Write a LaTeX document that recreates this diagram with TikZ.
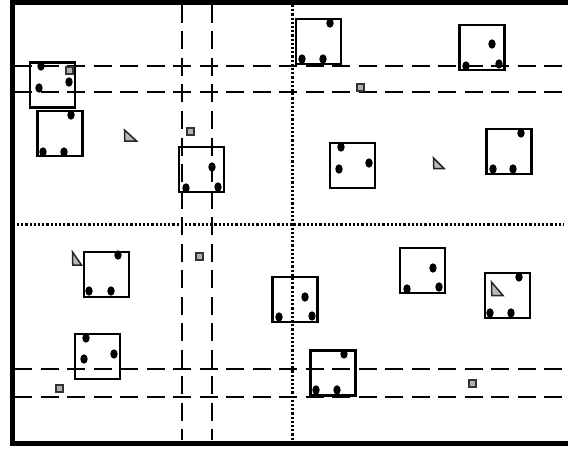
\documentclass[tikz,border=0pt]{standalone}
\usetikzlibrary{positioning}

\begin{document}
\begin{tikzpicture}[
    x=1pt, y=-1pt,
    frame/.style={line width=5pt},
    lane/.style={line width=2.2pt, dash pattern=on 18pt off 8.5pt},
    seam/.style={line width=3pt, dash pattern=on 2.2pt off 2pt},
    crate/.style={rectangle, draw, line width=2.2pt, minimum size=45pt, inner sep=0pt},
    chip/.style={rectangle, draw=black!80, fill=black!30, line width=2pt, minimum size=7pt, inner sep=0pt},
    tri/.style={draw=black!85, fill=black!28, line width=1.5pt, line join=miter},
]
\useasboundingbox (0,0) rectangle (568,452);

% ====== Frame ======
\draw[frame] (568,2.5) -- (12,2.5) -- (12,443) -- (568,443);

% ====== Lanes ======
\draw[lane] (14,66) -- (568,66);
\draw[lane] (14,92) -- (568,92);
\draw[lane] (14,369) -- (568,369);
\draw[lane] (14,397) -- (568,397);
\draw[lane] (182,5) -- (182,440);
\draw[lane] (212,5) -- (212,440);

% ====== Seams ======
\draw[seam] (292,5) -- (292,440);
\draw[seam] (17,224) -- (564,224);

% ====== Crates ======
\node[crate] (crateA) at (52.5,85) {};
\node[crate] (crateB) at (60,133.5) {};
\node[crate] (crateC) at (201.5,169.5) {};
\node[crate] (crateD) at (318.5,41.5) {};
\node[crate] (crateE) at (482,47.5) {};
\node[crate] (crateF) at (352.5,165.5) {};
\node[crate] (crateG) at (509,151.5) {};
\node[crate] (crateH) at (106.5,274.5) {};
\node[crate] (crateI) at (97.5,356.5) {};
\node[crate] (crateJ) at (295,299.5) {};
\node[crate] (crateK) at (333,373) {};
\node[crate] (crateL) at (422.5,270.5) {};
\node[crate] (crateM) at (507.5,295.5) {};

% ====== Dots ======
\foreach \p in {(41,66),(69,82),(39,88),
                (71,115),(43,152),(64,152),
                (212,167),(186,188),(218,187),
                (330,23),(302,59),(323,59),
                (492,44),(466,66),(499,64),
                (341,147),(339,169),(369,163),
                (521,133),(493,169),(513,169),
                (118,255),(89,291),(111,291),
                (86,338),(84,359),(114,354),
                (305,297),(279,317),(312,316),
                (344,354),(316,390),(337,390),
                (433,268),(407,289),(439,287),
                (519,277),(490,313),(511,313)}
    \fill \p ellipse (3.7pt and 4.7pt);

% ====== Chips ======
\node[chip] (chipA) at (69.5,70.5) {};
\node[chip] (chipB) at (190.5,131.5) {};
\node[chip] (chipC) at (360.5,88) {};
\node[chip] (chipD) at (199,256) {};
\node[chip] (chipE) at (59,388.5) {};
\node[chip] (chipF) at (472,383) {};

% ====== Flags ======
\filldraw[tri] (124.5,130) -- (124.8,141) -- (136.5,141) -- cycle;
\filldraw[tri] (433.5,158) -- (433.8,168.5) -- (444,168.5) -- cycle;
\filldraw[tri] (72.5,252) -- (72.8,265) -- (81.5,265) -- cycle;
\filldraw[tri] (491.5,282) -- (491.8,295.5) -- (503,295.5) -- cycle;

\end{tikzpicture}
\end{document}
